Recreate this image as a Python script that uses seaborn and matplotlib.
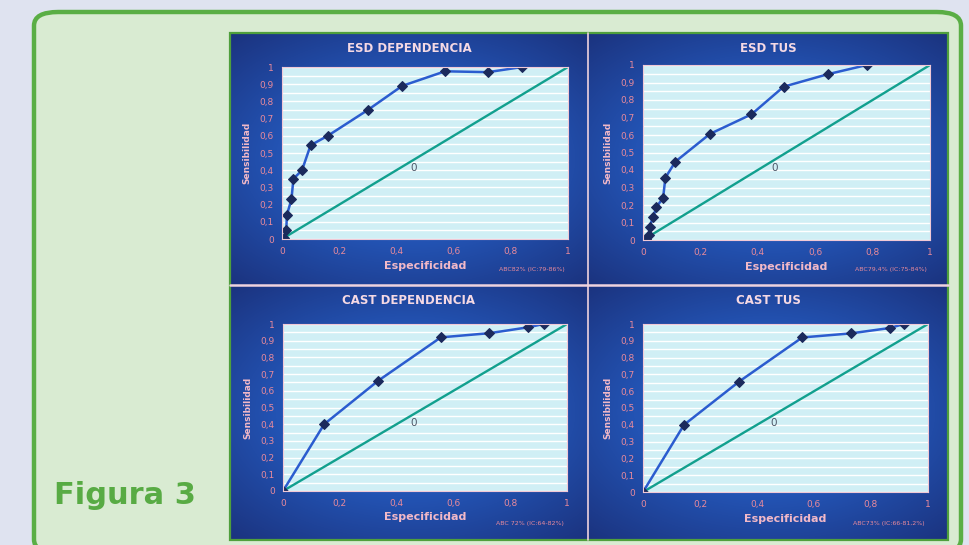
import numpy as np
import matplotlib
matplotlib.use("Agg")
import matplotlib.pyplot as plt
from matplotlib.patches import FancyBboxPatch, Rectangle
from matplotlib.colors import LinearSegmentedColormap
import seaborn as sns

sns.set_theme(style="white")
plt.rcParams['font.family'] = ['DejaVu Sans']

# Data (Especificidad vs Sensibilidad)
titles = ["ESD DEPENDENCIA", "ESD TUS", "CAST DEPENDENCIA", "CAST TUS"]
auc_notes = ["ABC82% (IC:79-86%)", "ABC79,4% (IC:75-84%)",
             "ABC 72% (IC:64-82%)", "ABC73% (IC:66-81,2%)"]

esd_dep_x = [0.006, 0.015, 0.017, 0.033, 0.04, 0.07, 0.10, 0.16, 0.30, 0.42, 0.57, 0.72, 0.84]
esd_dep_y = [0.004, 0.05, 0.14, 0.23, 0.35, 0.40, 0.545, 0.60, 0.75, 0.89, 0.975, 0.97, 1.0]

esd_tus_x = [0.012, 0.02, 0.023, 0.035, 0.047, 0.07, 0.078, 0.113, 0.233, 0.378, 0.49, 0.643, 0.78]
esd_tus_y = [0.006, 0.03, 0.076, 0.13, 0.19, 0.24, 0.356, 0.448, 0.606, 0.718, 0.876, 0.947, 1.0]

cast_dep_x = [0.0, 0.145, 0.335, 0.556, 0.727, 0.862, 0.918]
cast_dep_y = [0.0, 0.40, 0.66, 0.92, 0.945, 0.98, 1.0]

cast_tus_x = [0.0, 0.144, 0.337, 0.559, 0.729, 0.865, 0.916]
cast_tus_y = [0.0, 0.40, 0.657, 0.92, 0.944, 0.976, 1.0]

diag = [0, 1]
y_ticks = [0, 0.1, 0.2, 0.3, 0.4, 0.5, 0.6, 0.7, 0.8, 0.9, 1.0]
y_tick_labels = ["0", "0,1", "0,2", "0,3", "0,4", "0,5", "0,6", "0,7", "0,8", "0,9", "1"]
x_ticks = [0, 0.2, 0.4, 0.6, 0.8, 1.0]
x_tick_labels = ["0", "0,2", "0,4", "0,6", "0,8", "1"]

series = [(esd_dep_x, esd_dep_y), (esd_tus_x, esd_tus_y),
          (cast_dep_x, cast_dep_y), (cast_tus_x, cast_tus_y)]

W, H = 970, 545
fig = plt.figure(figsize=(W / 100, H / 100), dpi=100)
fig.patch.set_facecolor("#dfe3f0")


def fr(x0, y0, x1, y1):
    # pixel box (top-left origin) -> figure fraction rect
    return [x0 / W, 1 - y1 / H, (x1 - x0) / W, (y1 - y0) / H]


# rounded green frame
frame = FancyBboxPatch((34 / W, -8 / H), (961 - 34) / W, (533 + 8) / H,
                       boxstyle="round,pad=0,rounding_size=0.025",
                       transform=fig.transFigure, facecolor="#d9ebd2",
                       edgecolor="#5aae45", linewidth=3.2, zorder=0)
fig.patches.append(frame)

fig.text(54 / W, 1 - 495 / H, "Figura 3", fontsize=22, fontweight="bold",
         color="#58ab44", ha="left", va="center")

# panel backgrounds
panel_boxes = [(230, 33, 588, 285), (588, 33, 948, 285),
               (230, 285, 588, 540), (588, 285, 948, 540)]
plot_boxes = [(282, 67, 568, 239), (643, 65, 930, 240),
              (283, 324, 567, 491), (643, 324, 928, 492)]

bg_cmap = LinearSegmentedColormap.from_list("bg", ["#2d66cc", "#2353b3", "#1b337f"])
gx, gy = np.meshgrid(np.linspace(-1, 1, 120), np.linspace(-1, 1, 80))
glow = np.sqrt((gx * 0.9) ** 2 + (gy * 1.0) ** 2) / 1.35

for pb in panel_boxes:
    bax = fig.add_axes(fr(*pb), zorder=1)
    bax.imshow(glow, cmap=bg_cmap, aspect="auto", vmin=0, vmax=1, interpolation="bicubic")
    bax.set_axis_off()

# separators and image border
sep = fig.add_axes([0, 0, 1, 1], zorder=2)
sep.set_axis_off()
sep.set_xlim(0, W)
sep.set_ylim(H, 0)
sep.plot([230, 948], [285, 285], color="#efd3de", lw=1.8)
sep.plot([588, 588], [33, 540], color="#efd3de", lw=1.2)
sep.add_patch(Rectangle((230, 33), 718, 507, fill=False, edgecolor="#4f9f3c", lw=1.6))

pink = "#e88a9c"
label_pink = "#f2b9c8"

for i, (pbox, (xs, ys)) in enumerate(zip(plot_boxes, series)):
    ax = fig.add_axes(fr(*pbox), zorder=3)
    ax.set_facecolor("#d0eff5")
    ax.set_xlim(0, 1)
    ax.set_ylim(0, 1)
    ax.set_yticks(np.arange(0, 1.001, 0.05), minor=True)
    ax.grid(True, which="both", axis="y", color="white", lw=1.0)
    ax.grid(False, axis="x")
    for s in ax.spines.values():
        s.set_edgecolor("#f1c9d6")
        s.set_linewidth(0.8)

    sns.lineplot(x=diag, y=diag, ax=ax, color="#12a08e", lw=1.7)
    sns.lineplot(x=xs, y=ys, ax=ax, sort=False, color="#2b5ccf", lw=1.8,
                 marker="D", markersize=5, markerfacecolor="#1b2a5c",
                 markeredgecolor="#1b2a5c")
    ax.text(0.46, 0.41, "0", fontsize=7.5, color="#4a5566", ha="center", va="center")

    ax.set_xticks(x_ticks)
    ax.set_xticklabels(x_tick_labels)
    ax.set_yticks(y_ticks)
    ax.set_yticklabels(y_tick_labels)
    ax.tick_params(axis="both", which="both", length=0, labelsize=6.5,
                   labelcolor=pink, pad=6)
    ax.set_xlabel("Especificidad", fontsize=8, fontweight="bold", color=label_pink, labelpad=3)
    ax.set_ylabel("Sensibilidad", fontsize=6.5, fontweight="bold", color=label_pink, labelpad=6)

    px0, py0, px1, py1 = panel_boxes[i]
    fig.text(((px0 + px1) / 2) / W, 1 - (py0 + 16) / H, titles[i], fontsize=8.5,
             fontweight="bold", color="#f5d9e4", ha="center", va="center", zorder=5)
    fig.text((pbox[2] - 3) / W, 1 - (py1 - 16) / H, auc_notes[i], fontsize=4.5,
             color=pink, ha="right", va="center", zorder=5)

fig.savefig("out.png", dpi=100, facecolor=fig.get_facecolor())
